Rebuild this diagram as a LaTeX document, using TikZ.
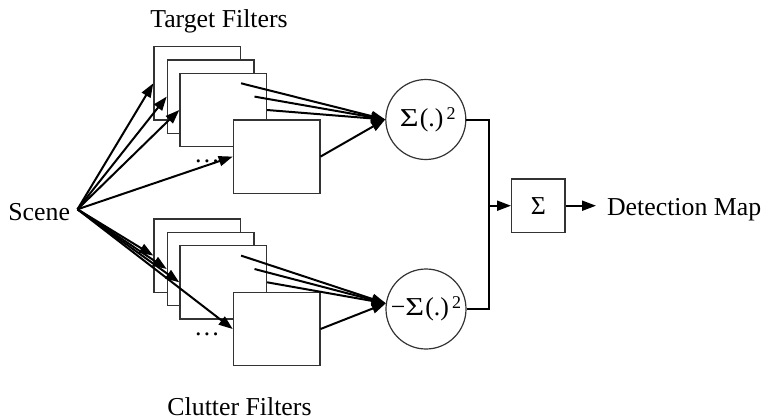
\documentclass[tikz,border=0pt]{standalone}
\usepackage{fontspec}
\setmainfont{Liberation Serif}
\usetikzlibrary{arrows.meta}

\begin{document}
\begin{tikzpicture}[x=0.5pt,y=-0.5pt,
  lbl/.style={font=\fontsize{12.9}{15}\selectfont, inner sep=0pt},
  filt/.style={draw=black!80, line width=0.6pt, fill=white,
    minimum width=43.3pt, minimum height=36.7pt, inner sep=0pt, anchor=north west},
  sq/.style={draw=black!80, line width=0.6pt, circle, minimum size=40pt, inner sep=0pt,
    font=\fontsize{12.9}{15}\selectfont},
  sumbox/.style={draw=black!80, line width=0.6pt, minimum size=26.7pt, inner sep=0pt,
    font=\fontsize{12.9}{15}\selectfont},
  arr/.style={line width=1pt, -{Triangle[length=7pt, width=5pt]}},
  wire/.style={line width=1pt},
]
\useasboundingbox (0,0) rectangle (763,418);
\newcommand{\sqsum}{\scalebox{1.25}[1]{Σ}\kern0.6pt(.)\kern1.6pt\raisebox{3.6pt}{\fontsize{9}{9}\selectfont 2}}

% labels
\node[lbl, anchor=base west] (scene) at (8,220) {Scene};
\coordinate (src) at (77.5,209.3);
\node[lbl, anchor=base] (ttl) at (219,27) {Target Filters};
\node[lbl, anchor=base] (ctl) at (239.5,415) {Clutter Filters};

% target filter bank
\node[filt] (t1) at (153.3,46) {};
\node[filt] (t2) at (166.7,59.3) {};
\node[filt] (t3) at (179.3,72.7) {};
\node[filt] (t4) at (232.7,119.3) {};
\node[lbl, anchor=base] (tdots) at (207,162) {\dots};

% clutter filter bank
\node[filt] (b1) at (153.3,218.3) {};
\node[filt] (b2) at (166.7,231.7) {};
\node[filt] (b3) at (179.3,245) {};
\node[filt] (b4) at (232.7,291.7) {};
\node[lbl, anchor=base] (bdots) at (207,335) {\dots};

% energy detectors and combiner
\node[sq] (tc) at (425.8,119.5) {\hspace*{2pt}\sqsum};
\node[sq] (bc) at (426,309) {−\sqsum};
\node[sumbox] (sum) at (538.3,205.7) {Σ};
\node[lbl, anchor=base west] (dm) at (606.7,215) {Detection Map};
\coordinate (join) at (488.7,205.7);
\coordinate (dmin) at (596,205.7);

% scene to filters
\foreach \f in {t1,t2,t3,t4,b1,b2,b3,b4}
  \draw[arr] (src) -- (\f.west);

% filters to detectors
\foreach \f in {t1,t2,t3,t4}
  \draw[arr] (\f.east) -- (tc.west);
\foreach \f in {b1,b2,b3,b4}
  \draw[arr] (\f.east) -- (bc.172);

% combine
\draw[wire] (tc.east) -| (join);
\draw[wire] (bc.east) -| (join);
\draw[arr] (join) -- (sum.west);
\draw[arr] (sum.east) -- (dmin);
\end{tikzpicture}
\end{document}
